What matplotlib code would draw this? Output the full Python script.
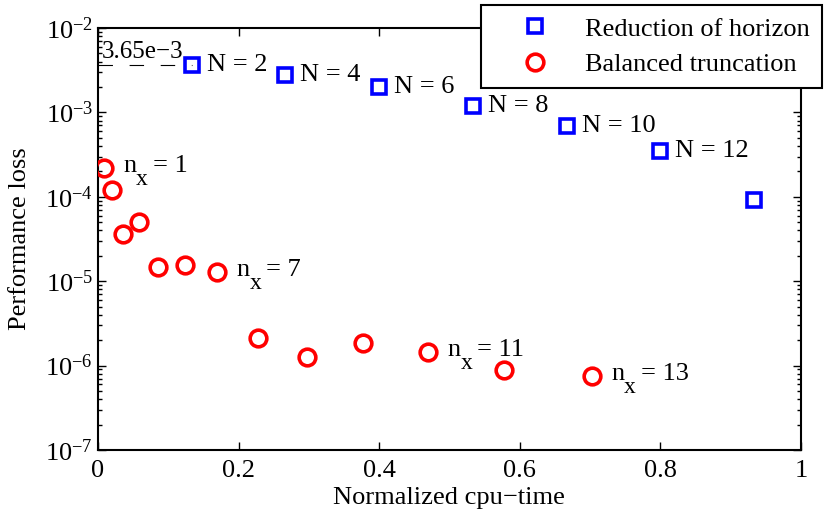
import numpy as np
import matplotlib.pyplot as plt

plt.rcParams['font.family'] = ['Liberation Serif', 'DejaVu Serif']
plt.rcParams['mathtext.fontset'] = 'custom'
plt.rcParams['mathtext.rm'] = 'Liberation Serif'
plt.rcParams['mathtext.it'] = 'Liberation Serif:italic'
plt.rcParams['axes.unicode_minus'] = True

# Reduction of horizon (N = 2, 4, ..., 14)
horizon_N = [2, 4, 6, 8, 10, 12, 14]
horizon_time = [2/15, 4/15, 6/15, 8/15, 10/15, 12/15, 14/15]
horizon_loss = [3.65e-3, 2.75e-3, 2.02e-3, 1.19e-3, 6.9e-4, 3.5e-4, 9.2e-5]
horizon_labels = ['N = 2', 'N = 4', 'N = 6', 'N = 8', 'N = 10', 'N = 12', None]

# Balanced truncation (n_x = 1 ... 13)
bt_time = [0.009, 0.020, 0.036, 0.058, 0.086, 0.124, 0.170,
           0.228, 0.297, 0.377, 0.470, 0.578, 0.703]
bt_loss = [2.18e-4, 1.2e-4, 3.6e-5, 5.0e-5, 1.49e-5, 1.56e-5, 1.27e-5,
           2.12e-6, 1.25e-6, 1.84e-6, 1.44e-6, 8.9e-7, 7.6e-7]
bt_labels = {0: 1, 6: 7, 10: 11, 12: 13}

ref_loss = 3.65e-3

fig = plt.figure(figsize=(8.26, 5.23), dpi=100)
ax = fig.add_axes([0.1186, 0.1396, 0.851, 0.8069])

ax.semilogy(horizon_time, horizon_loss, 's', color='blue', mfc='none',
            ms=10, mew=2.6, label='Reduction of horizon', zorder=3)
ax.semilogy(bt_time, bt_loss, 'o', color='red', mfc='none',
            ms=12, mew=2.6, label='Balanced truncation', zorder=3)

# dashed reference line
ax.plot([0, horizon_time[0]], [ref_loss, ref_loss], color='black', lw=0.8,
        dashes=(13, 15))
ax.text(0.006, ref_loss * 1.05, '3.65e\u22123', fontsize=18, va='bottom', ha='left')

for t, l, s in zip(horizon_time, horizon_loss, horizon_labels):
    if s:
        ax.annotate(s, (t, l), xytext=(15, 0), textcoords='offset pixels',
                    fontsize=19, va='center', ha='left')

# n_x labels, subscript drawn low like the original
for i, n in bt_labels.items():
    p = (bt_time[i], bt_loss[i])
    ax.annotate('n', p, xytext=(19, -4), textcoords='offset pixels',
                fontsize=19, va='baseline', ha='left')
    ax.annotate('x', p, xytext=(32, -17), textcoords='offset pixels',
                fontsize=17, va='baseline', ha='left')
    ax.annotate('= %d' % n, p, xytext=(49, -4), textcoords='offset pixels',
                fontsize=19, va='baseline', ha='left')

ax.set_xlim(0, 1)
ax.set_ylim(1e-7, 1e-2)
ax.set_xticks([0, 0.2, 0.4, 0.6, 0.8, 1])
ax.set_xticklabels(['0', '0.2', '0.4', '0.6', '0.8', '1'])
ax.tick_params(which='both', direction='in', top=True, right=True, labelsize=19)
ax.tick_params(which='major', length=6, width=1)
ax.tick_params(which='minor', length=3, width=1)
ax.tick_params(axis='x', pad=7)
for sp in ax.spines.values():
    sp.set_linewidth(1.5)

ax.set_xlabel('Normalized cpu\u2212time', fontsize=19, labelpad=4)
ax.set_ylabel('Performance loss', fontsize=19, labelpad=10)

leg = ax.legend(loc='upper right', bbox_to_anchor=(0.995, 0.99),
                bbox_transform=fig.transFigure, fontsize=19, fancybox=False,
                edgecolor='black', framealpha=1, borderaxespad=0,
                handlelength=3.2, handletextpad=0.29, labelspacing=0.45,
                borderpad=0.45)
leg.get_frame().set_linewidth(1.5)

fig.savefig('out.png', dpi=100)
